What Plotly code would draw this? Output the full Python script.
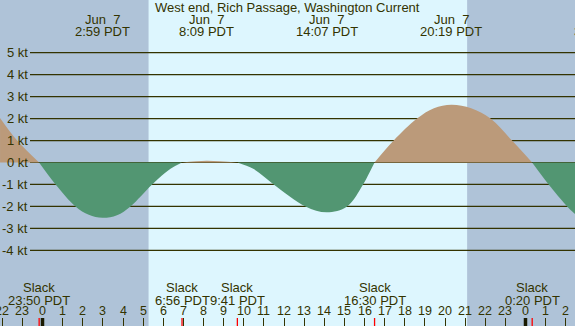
import plotly.graph_objects as go

# ---- data ----
# hours relative to Jun 7 00:00 PDT, current speed in knots (+ flood, - ebb)
times = [-2.11, -1.26, -0.17, 0.65, 1.64, 2.3, 2.98, 3.7, 4.37, 5.45, 6.36, 6.93,
         8.15, 9.68, 10.47, 11.49, 13.07, 14.12, 15.13, 15.93, 16.25, 16.5, 17.45,
         18.61, 19.45, 20.32, 21.3, 22.26, 23.33, 24.33, 25.15, 26.07, 26.46]
speeds = [2.03, 1.0, 0.0, -1.0, -2.0, -2.38, -2.52, -2.4, -2.0, -1.0, -0.29, 0.0,
          0.08, 0.0, -0.29, -1.0, -2.0, -2.27, -2.0, -1.0, -0.45, 0.0, 1.0,
          2.0, 2.47, 2.63, 2.47, 2.0, 1.0, 0.0, -1.0, -2.0, -2.35]

event_times = [2.983, 8.15, 14.117, 20.317]
event_dates = ["Jun\u00a0\u00a07", "Jun\u00a0\u00a07", "Jun\u00a0\u00a07", "Jun\u00a0\u00a07"]
event_labels = ["2:59 PDT", "8:09 PDT", "14:07 PDT", "20:19 PDT"]

slack_times = [-0.167, 6.933, 9.683, 16.5, 24.333]
slack_labels = ["23:50 PDT", "6:56 PDT", "9:41 PDT", "16:30 PDT", "0:20 PDT"]

hour_ticks = list(range(-2, 27))
hour_labels = [str(h % 24) for h in hour_ticks]
midnights = [0, 24]

sunrise = 5.27
sunset = 21.1

kt_ticks = [5, 4, 3, 2, 1, 0, -1, -2, -3, -4]
kt_labels = [f"{v} kt" for v in kt_ticks]

title = "West end, Rich Passage, Washington Current"

# ---- styles ----
W, H = 575, 326
NIGHT = "#afc3d8"
DAY = "#ddf6fe"
FLOOD = "#bb9a7a"
EBB = "#529672"
INK = "#333300"
FONT = dict(family="Liberation Sans, Arial, sans-serif", size=13, color=INK)
HFONT = dict(family="Liberation Sans, Arial, sans-serif", size=12.5, color=INK)


def py(px):
    return 1 - px / H


fig = go.Figure()

# split curve into sign segments at slack (zero) points
segments = []
cur_t, cur_v = [], []
for t, v in zip(times, speeds):
    cur_t.append(t)
    cur_v.append(v)
    if v == 0 and len(cur_t) > 1:
        segments.append((cur_t, cur_v))
        cur_t, cur_v = [t], [v]
if len(cur_t) > 1:
    segments.append((cur_t, cur_v))

for st, sv in segments:
    peak = max(sv, key=abs)
    col = FLOOD if peak > 0 else EBB
    fig.add_trace(go.Scatter(
        x=st, y=sv, mode="lines", fill="tozeroy", fillcolor=col,
        line=dict(color=col, width=0, shape="spline", smoothing=1.0),
        hoverinfo="skip", showlegend=False))

shapes = [dict(type="rect", xref="x", yref="paper", x0=sunrise, x1=sunset, y0=0, y1=1,
               fillcolor=DAY, line=dict(width=0), layer="below")]
for v in kt_ticks:
    shapes.append(dict(type="line", xref="paper", yref="y", x0=30 / W, x1=1, y0=v, y1=v,
                       line=dict(color=INK, width=1.2), layer="below"))
for m in midnights:
    shapes.append(dict(type="line", xref="x", yref="paper", x0=m, x1=m, y0=0, y1=8 / H,
                       line=dict(color="#1a1a00", width=3.5), layer="above"))
for s in slack_times:
    shapes.append(dict(type="line", xref="x", yref="paper", x0=s, x1=s, y0=0, y1=8 / H,
                       line=dict(color="#ff0000", width=1.3), layer="above"))


def note(text, x, y, xref="x", yref="paper", xanchor="center", font=FONT, **kw):
    return dict(text=text, xref=xref, yref=yref, x=x, y=y, showarrow=False,
                xanchor=xanchor, yanchor="middle", font=font, borderpad=0, **kw)


ann = [note(title, 287 / W, py(7.5), xref="paper")]
for t, d, l in zip(event_times, event_dates, event_labels):
    ann.append(note(d, t, py(20)))
    ann.append(note(l, t, py(32)))
# next event label, just entering at the right edge
ann.append(note("3:42 PDT", 1, py(32), xref="paper", xanchor="left", xshift=-2))
for t, l in zip(slack_times, slack_labels):
    ann.append(note("Slack", t, py(287.5)))
    ann.append(note(l, t, py(300)))
for t, l in zip(hour_ticks, hour_labels):
    ann.append(note(l, t, py(311), font=HFONT))
for v, l in zip(kt_ticks, kt_labels):
    ann.append(note(l, 28.5 / W, v, xref="paper", yref="y", xanchor="right"))

fig.update_layout(
    width=W, height=H, margin=dict(l=0, r=0, t=0, b=0),
    paper_bgcolor=NIGHT, plot_bgcolor=NIGHT,
    shapes=shapes, annotations=ann, showlegend=False,
    xaxis=dict(range=[-2.112, 26.46], showgrid=False, zeroline=False, showline=False,
               showticklabels=False, tickmode="array", tickvals=hour_ticks,
               ticks="inside", ticklen=8, tickwidth=1, tickcolor=INK, fixedrange=True),
    yaxis=dict(range=[-7.445, 7.40], showgrid=False, zeroline=False, showline=False,
               showticklabels=False, ticks="", fixedrange=True),
)

fig.write_html("out.html", config={"displayModeBar": False},
               post_script="document.body.style.margin='0';document.body.style.overflow='hidden';")
